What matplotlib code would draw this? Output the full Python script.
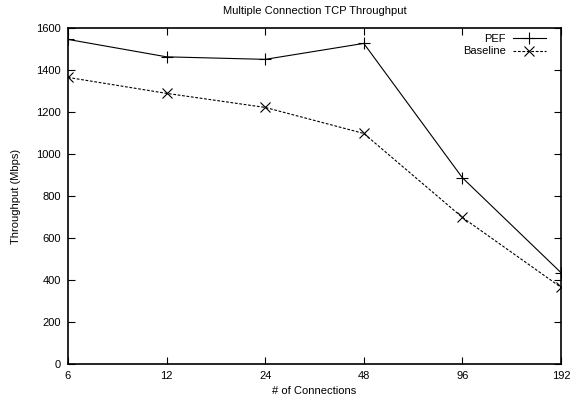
import matplotlib
matplotlib.use("Agg")
import matplotlib.pyplot as plt
from matplotlib.ticker import FixedLocator, FixedFormatter, NullLocator

connections = [6, 12, 24, 48, 96, 192]
pef = [1546, 1463, 1451, 1527, 887, 435]
baseline = [1365, 1289, 1222, 1098, 698, 365]
yticks = [0, 200, 400, 600, 800, 1000, 1200, 1400, 1600]

plt.rcParams['font.family'] = ['Liberation Sans', 'DejaVu Sans']
plt.rcParams['font.size'] = 8

fig = plt.figure(figsize=(5.71, 4.01), dpi=100)
ax = fig.add_axes([0.119, 0.0923, 0.8635, 0.8377])

ax.plot(connections, pef, '-', color='black', lw=0.8, marker='+', ms=8, mew=0.8, label='PEF')
ax.plot(connections, baseline, color='black', lw=0.8, ls=(0, (2.5, 1.5)), marker='x', ms=7, mew=0.8, label='Baseline')

ax.set_xscale('log', base=2)
ax.set_xlim(6, 192)
ax.set_ylim(0, 1600)
ax.xaxis.set_major_locator(FixedLocator(connections))
ax.xaxis.set_major_formatter(FixedFormatter([str(c) for c in connections]))
ax.xaxis.set_minor_locator(NullLocator())
ax.set_yticks(yticks)

ax.tick_params(direction='in', top=True, right=True, length=5, width=0.8, pad=5, labelsize=8)
for s in ax.spines.values():
    s.set_linewidth(1.2)

ax.set_title('Multiple Connection TCP Throughput', fontsize=8, pad=10)
ax.set_xlabel('# of Connections', fontsize=8, labelpad=4)
ax.set_ylabel('Throughput (Mbps)', fontsize=8, labelpad=11)

ax.legend(loc='upper right', frameon=False, markerfirst=False, fontsize=8,
          handlelength=3.0, handletextpad=0.6, labelspacing=0.2,
          borderaxespad=0.3, bbox_to_anchor=(0.985, 1.005))

fig.savefig('out.png', dpi=100)
